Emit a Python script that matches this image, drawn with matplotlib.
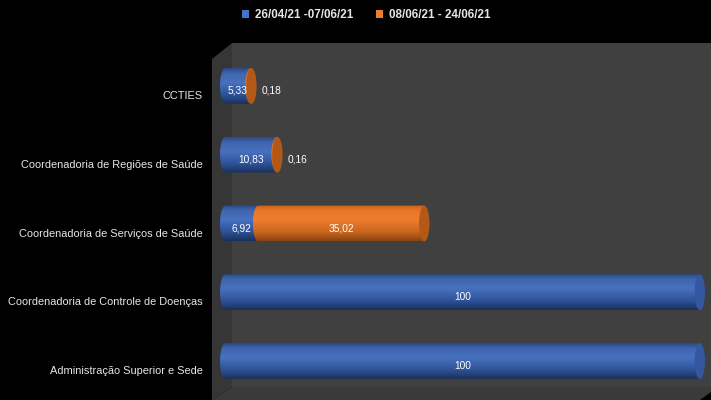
import numpy as np
import matplotlib.pyplot as plt
import matplotlib.transforms as mtransforms
from matplotlib.patches import Ellipse, Polygon, PathPatch, Patch
from matplotlib.path import Path
from matplotlib.colors import LinearSegmentedColormap


categorias = ['Administração Superior e Sede',
              'Coordenadoria de Controle de Doenças',
              'Coordenadoria de Serviços de Saúde',
              'Coordenadoria de Regiões de Saúde',
              'CCTIES']
periodo1 = [100, 100, 6.92, 10.83, 5.33]
periodo2 = [0, 0, 35.02, 0.16, 0.18]
legendas = ['26/04/21 -07/06/21', '08/06/21 - 24/06/21']


plt.rcParams['font.family'] = ['Liberation Sans', 'DejaVu Sans']

W, H = 711, 400
fig = plt.figure(figsize=(7.11, 4.0), dpi=100)
fig.patch.set_facecolor('black')

def px(x, y):
	return (x / W, 1 - y / H)

# fake 3D walls (background)
side = Polygon([px(212, 59), px(232, 43), px(232, 387), px(212, 400)],
               closed=True, transform=fig.transFigure, facecolor='#363636', edgecolor='none', zorder=0)
back = Polygon([px(232, 43), px(711, 43), px(711, 387), px(232, 387)],
               closed=True, transform=fig.transFigure, facecolor='#404040', edgecolor='none', zorder=0)
floor = Polygon([px(232, 387), px(711, 387), px(711, 392), px(700, 400), px(212, 400)],
                closed=True, transform=fig.transFigure, facecolor='#3a3a3a', edgecolor='none', zorder=0)
for p in (side, back, floor):
	fig.patches.append(p)

ax = fig.add_axes([212 / W, 0, (W - 212) / W, 360 / H])
ax.set_zorder(2)
ax.set_facecolor('none')
for s in ax.spines.values():
	s.set_visible(False)

cmap_azul = LinearSegmentedColormap.from_list('azul', [
	(0.0, '#1b305c'), (0.25, '#2e5297'), (0.6, '#4771bf'), (0.85, '#3f66af'), (1.0, '#2c4b8a')])
cmap_laranja = LinearSegmentedColormap.from_list('laranja', [
	(0.0, '#8c4311'), (0.25, '#c9661f'), (0.6, '#f07d2d'), (0.85, '#e87628'), (1.0, '#c6631e')])
cap_azul = '#3458a0'
cap_laranja = '#b45818'

grad = np.linspace(0, 1, 64).reshape(-1, 1)
y = np.arange(len(categorias))
altura = 0.52
rx = 1.1

bars1 = ax.barh(y, periodo1, height=altura, color='none', zorder=2)
bars2 = ax.barh(y, periodo2, left=periodo1, height=altura, color='none', zorder=3)

def cilindro(rect, cmap, z):
	x0, y0 = rect.get_x(), rect.get_y()
	w, h = rect.get_width(), rect.get_height()
	x1 = x0 + w
	t = np.linspace(np.pi / 2, 3 * np.pi / 2, 30)
	arc = np.column_stack([x0 + rx * np.cos(t), y0 + h / 2 + h / 2 * np.sin(t)])
	verts = np.vstack([[[x1, y0 + h]], arc, [[x1, y0]], [[x1, y0 + h]]])
	path = Path(verts, closed=True)
	clip = PathPatch(path, facecolor='none', edgecolor='none', transform=ax.transData)
	ax.add_patch(clip)
	im = ax.imshow(grad, cmap=cmap, origin='lower', aspect='auto',
	               extent=(x0 - rx, x1, y0, y0 + h), zorder=z, interpolation='bilinear')
	im.set_clip_path(clip)

def rotulo(v):
	if v == int(v):
		return str(int(v))
	return f'{v:.2f}'.replace('.', ',')

off = mtransforms.offset_copy(ax.transData, fig=fig, x=0, y=-5, units='dots')

for i in range(len(categorias)):
	b1, b2 = bars1[i], bars2[i]
	cilindro(b1, cmap_azul, 2)
	if periodo2[i] > 0:
		cilindro(b2, cmap_laranja, 3)
		end, ccol = periodo1[i] + periodo2[i], cap_laranja
	else:
		end, ccol = periodo1[i], cap_azul
	ax.add_patch(Ellipse((end, y[i]), 2 * rx, altura, facecolor=ccol, edgecolor='none', zorder=4))

	ax.text(periodo1[i] / 2, y[i], rotulo(periodo1[i]), transform=off, ha='center', va='center',
	        color='white', fontsize=7.3, zorder=5)
	if periodo2[i] > 0:
		if periodo2[i] > 5:
			ax.text(periodo1[i] + periodo2[i] / 2, y[i], rotulo(periodo2[i]), transform=off,
			        ha='center', va='center', color='white', fontsize=7.3, zorder=5)
		else:
			ax.text(end + rx + 1.0, y[i], rotulo(periodo2[i]), transform=off,
			        ha='left', va='center', color='white', fontsize=7.3, zorder=5)

ax.set_xlim(-2.79, 102.36)
ax.set_ylim(-0.567, 4.669)
ax.set_xticks([])
ax.set_yticks(y)
ax.set_yticklabels(categorias, fontsize=7.9, color='#e6e6e6')
ax.tick_params(axis='y', length=0, pad=6.5)
shift = mtransforms.ScaledTranslation(0, -9 / 100, fig.dpi_scale_trans)
for lab in ax.get_yticklabels():
	lab.set_transform(lab.get_transform() + shift)

handles = [Patch(facecolor='#4472c4', edgecolor='none'), Patch(facecolor='#ed7d31', edgecolor='none')]
leg = fig.legend(handles, legendas, loc='center', bbox_to_anchor=(0.515, 0.9625), ncol=2,
                 frameon=False, fontsize=8.4, handlelength=0.6, handleheight=0.6,
                 handletextpad=0.5, columnspacing=2.0, borderaxespad=0)
for t in leg.get_texts():
	t.set_color('#e6e6e6')
	t.set_fontweight('bold')

fig.savefig('out.png', dpi=100, facecolor='black')
